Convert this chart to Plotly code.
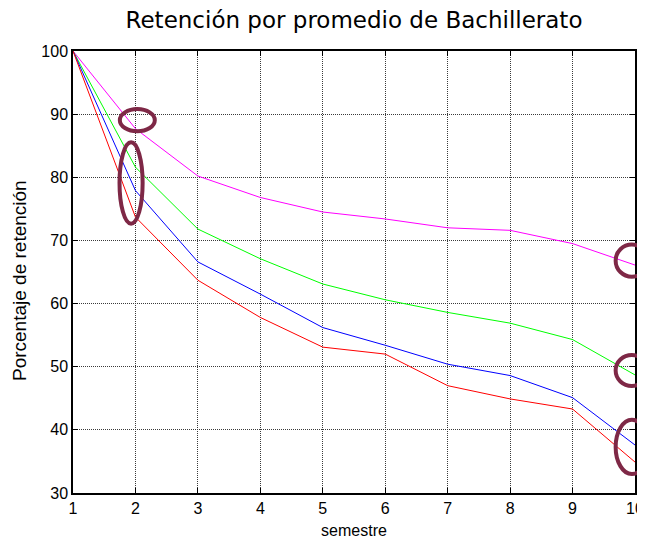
import plotly.graph_objects as go

semestre = [1, 2, 3, 4, 5, 6, 7, 8, 9, 10]
serie_magenta = [100, 87.7, 80.2, 76.8, 74.5, 73.4, 72.0, 71.6, 69.5, 66.1]
serie_verde = [100, 81.6, 71.8, 67.1, 63.1, 60.6, 58.6, 56.9, 54.3, 48.7]
serie_azul = [100, 77.9, 66.6, 61.5, 56.2, 53.4, 50.4, 48.6, 45.1, 37.6]
serie_roja = [100, 73.7, 63.7, 57.8, 53.1, 52.0, 47.0, 44.9, 43.3, 34.9]
y_ticks = [30, 40, 50, 60, 70, 80, 90, 100]

# highlight ellipses: (x center, y center, x half-width, y half-height) in data units
resaltes = [
    (2.03, 89.05, 0.28, 1.75),
    (1.93, 79.1, 0.185, 6.45),
    (9.95, 66.8, 0.26, 2.55),
    (9.95, 49.4, 0.26, 2.45),
    (9.95, 37.3, 0.26, 4.3),
]

XMIN, XMAX, YMIN, YMAX = 1, 10, 30, 100

fig = go.Figure()
for vals, col in [(serie_magenta, "#FF00FF"), (serie_verde, "#00FF00"),
                  (serie_azul, "#0000FF"), (serie_roja, "#FF0000")]:
    fig.add_trace(go.Scatter(x=semestre, y=vals, mode="lines",
                             line=dict(color=col, width=1), showlegend=False))

def px(v):
    return (v - XMIN) / (XMAX - XMIN)

def py(v):
    return (v - YMIN) / (YMAX - YMIN)

for cx, cy, hw, hh in resaltes:
    fig.add_shape(type="circle", xref="paper", yref="paper",
                  x0=px(cx - hw), x1=px(cx + hw), y0=py(cy - hh), y1=py(cy + hh),
                  line=dict(color="#7E2846", width=4), layer="above")

FONT = "Liberation Sans, Arial"
axis_common = dict(
    showline=True, linecolor="black", linewidth=1.5, mirror="ticks",
    ticks="inside", ticklen=5, tickcolor="black",
    showgrid=True, gridcolor="#3a3a3a", gridwidth=1, griddash="1px,1px",
    zeroline=False, automargin=False,
    tickfont=dict(family=FONT, size=16, color="black"),
)

fig.update_xaxes(range=[XMIN, XMAX], tickvals=semestre,
                 title=dict(text="semestre", font=dict(family=FONT, size=16, color="black"), standoff=9),
                 **axis_common)
fig.update_yaxes(range=[YMIN, YMAX], tickvals=y_ticks, **axis_common)

fig.add_annotation(text="Porcentaje de retención", textangle=-90,
                   xref="paper", yref="paper", x=-0.094, y=0.48,
                   xanchor="center", yanchor="middle", showarrow=False,
                   font=dict(family=FONT, size=19, color="black"))

fig.update_layout(
    width=637, height=534,
    margin=dict(l=65, r=10, t=43, b=49),
    paper_bgcolor="white", plot_bgcolor="white",
    title=dict(text="Retención por promedio de Bachillerato",
               font=dict(family="DejaVu Sans", size=23, color="black"),
               xref="paper", x=0.5, xanchor="center", y=0.9775, yanchor="middle"),
)

fig.write_html("out.html")
